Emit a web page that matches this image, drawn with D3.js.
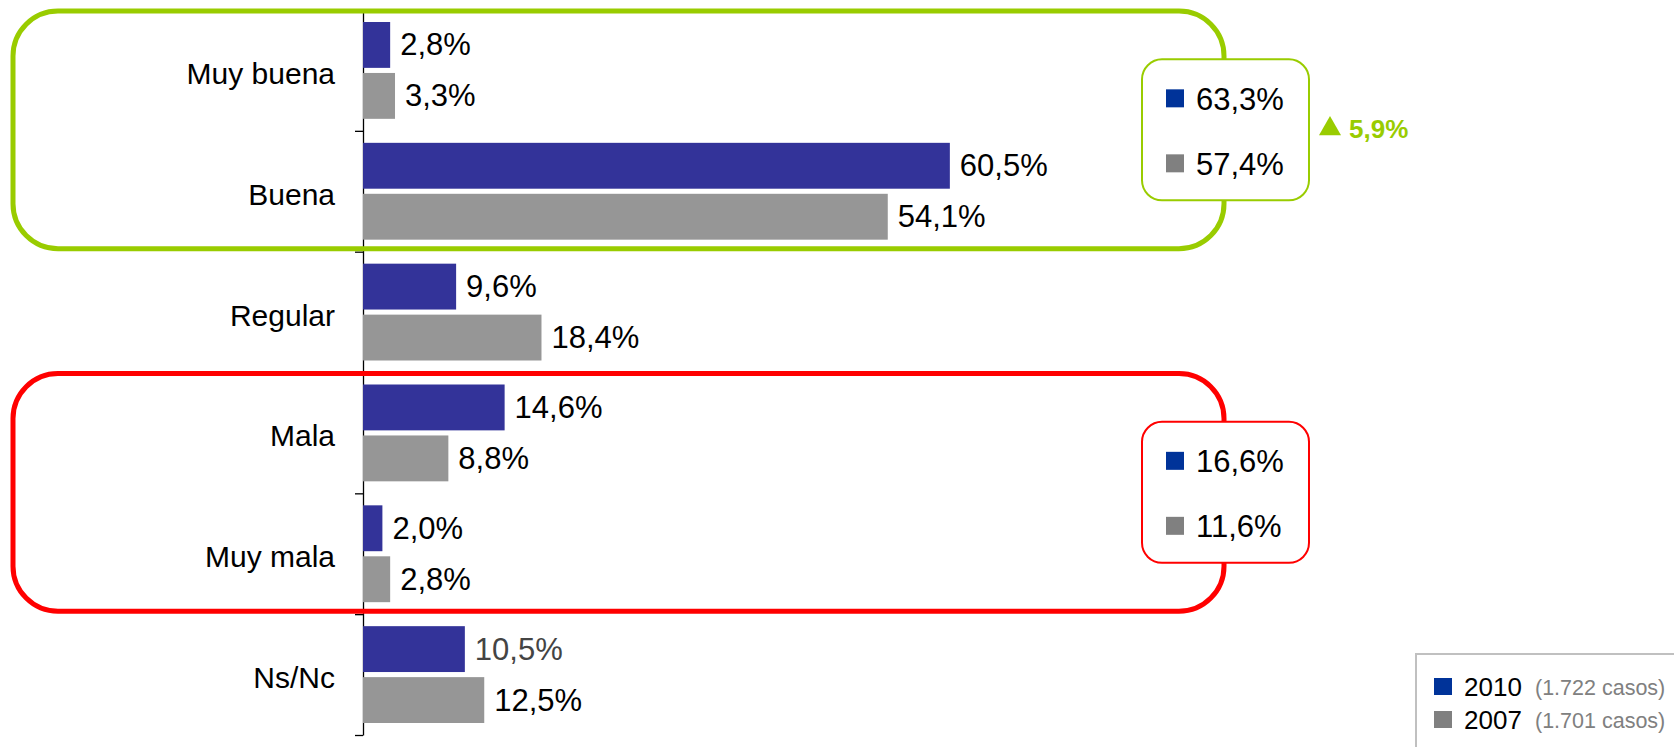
<!DOCTYPE html>
<html>
<head>
<meta charset="utf-8">
<script src="https://cdn.jsdelivr.net/npm/d3@7"></script>
<style>
  body { margin: 0; background: #fff; }
  svg { display: block; font-family: "Liberation Sans", Arial, sans-serif; }
</style>
</head>
<body>
<svg id="chart"></svg>
<script>
// valoracion
let categories = ['Muy buena', 'Buena', 'Regular', 'Mala', 'Muy mala', 'Ns/Nc'];
let years = ['2010', '2007'];
let v2010 = [2.8, 60.5, 9.6, 14.6, 2.0, 10.5];
let v2007 = [3.3, 54.1, 18.4, 8.8, 2.8, 12.5];
let casos = [1722, 1701];
// grupos resumidos (indices de categorias)
let groups = [
  { from: 0, to: 1, color: '#99cc00', delta: true },
  { from: 3, to: 4, color: '#ff0000', delta: false }
];

let width = 1674, height = 747;
let barColors = ['#333399', '#969696'];
let keyColors = ['#003399', '#808080'];

let es = d3.formatLocale({ decimal: ',', thousands: '.', grouping: [3], currency: ['', ''] });
let pct = d => es.format('.1f')(d) + '%';
let miles = es.format(',d');

let svg = d3.select('#chart')
  .attr('width', width)
  .attr('height', height);

let x = d3.scaleLinear().domain([0, 100]).range([363, 1333]);
let y0 = d3.scaleBand().domain(categories).range([10, 735]).padding(0);
let y1 = d3.scaleBand().domain(years).range([12, y0.step() - 12]).paddingInner(0.1);

// ejes
let tickScale = d3.scaleLinear().domain([0, categories.length]).range([10, 735]);
svg.append('g')
  .attr('transform', `translate(${x(0)},0)`)
  .call(d3.axisLeft(tickScale).ticks(categories.length).tickSize(8).tickSizeOuter(0).tickFormat(''))
  .call(g => g.selectAll('path, line').attr('stroke', '#000').attr('stroke-width', 1.3));

svg.append('g').selectAll('text')
  .data(categories)
  .enter()
  .append('text')
  .attr('x', 335)
  .attr('y', d => y0(d) + y0.step() / 2 + 3)
  .attr('text-anchor', 'end')
  .attr('dominant-baseline', 'central')
  .attr('font-size', 30)
  .text(d => d);

// barras
let rows = [];
categories.forEach((c, i) => {
  rows.push({ cat: c, year: '2010', value: v2010[i], k: 0 });
  rows.push({ cat: c, year: '2007', value: v2007[i], k: 1 });
});

svg.append('g').selectAll('rect')
  .data(rows)
  .enter()
  .append('rect')
  .attr('x', x(0))
  .attr('y', d => y0(d.cat) + y1(d.year))
  .attr('width', d => x(d.value) - x(0))
  .attr('height', y1.bandwidth())
  .attr('fill', d => barColors[d.k]);

svg.append('g').selectAll('text')
  .data(rows)
  .enter()
  .append('text')
  .attr('x', d => x(d.value) + 10)
  .attr('y', d => y0(d.cat) + y1(d.year) + y1.bandwidth() / 2)
  .attr('dominant-baseline', 'central')
  .attr('font-size', 31)
  .attr('fill', d => (d.cat === 'Ns/Nc' && d.k === 0) ? '#444' : '#000')
  .text(d => pct(d.value));

// cajas de grupos
groups.forEach(gr => {
  let top = y0(categories[gr.from]) + 1;
  let bottom = y0(categories[gr.to]) + y0.step() - 3;
  svg.append('rect')
    .attr('x', 13).attr('y', top)
    .attr('width', 1224 - 13).attr('height', bottom - top)
    .attr('rx', 45).attr('ry', 45)
    .attr('fill', 'none')
    .attr('stroke', gr.color)
    .attr('stroke-width', 5);

  let t2010 = d3.sum(v2010.slice(gr.from, gr.to + 1));
  let t2007 = d3.sum(v2007.slice(gr.from, gr.to + 1));
  let cy = (top + bottom) / 2;
  let bx = 1142, bw = 167, bh = 141, by = cy - bh / 2;
  svg.append('rect')
    .attr('x', bx).attr('y', by)
    .attr('width', bw).attr('height', bh)
    .attr('rx', 20).attr('ry', 20)
    .attr('fill', '#fff')
    .attr('stroke', gr.color)
    .attr('stroke-width', 2);

  [t2010, t2007].forEach((t, i) => {
    let ty = by + (i === 0 ? 39 : 104);
    svg.append('rect')
      .attr('x', bx + 24).attr('y', ty - 9)
      .attr('width', 18).attr('height', 18)
      .attr('fill', keyColors[i]);
    svg.append('text')
      .attr('x', bx + 54).attr('y', ty + 1)
      .attr('dominant-baseline', 'central')
      .attr('font-size', 31)
      .text(pct(t));
  });

  if (gr.delta) {
    let dif = t2010 - t2007;
    svg.append('path')
      .attr('d', d3.symbol().type(d3.symbolTriangle).size(210)())
      .attr('transform', `translate(1330,${cy - 1})`)
      .attr('fill', gr.color);
    svg.append('text')
      .attr('x', 1349).attr('y', cy - 1)
      .attr('dominant-baseline', 'central')
      .attr('font-size', 26)
      .attr('font-weight', 'bold')
      .attr('fill', gr.color)
      .text(pct(dif));
  }
});

// leyenda
let legend = svg.append('g');
legend.append('rect')
  .attr('x', 1416).attr('y', 654)
  .attr('width', 300).attr('height', 120)
  .attr('fill', '#fff')
  .attr('stroke', '#c0c0c0')
  .attr('stroke-width', 2);

years.forEach((yr, i) => {
  let ly = 687 + i * 33;
  legend.append('rect')
    .attr('x', 1434).attr('y', ly - 9)
    .attr('width', 18).attr('height', 17)
    .attr('fill', keyColors[i]);
  legend.append('text')
    .attr('x', 1464).attr('y', ly)
    .attr('dominant-baseline', 'central')
    .attr('font-size', 26)
    .text(yr);
  legend.append('text')
    .attr('x', 1535).attr('y', ly + 1)
    .attr('dominant-baseline', 'central')
    .attr('font-size', 21.5)
    .attr('fill', '#808080')
    .text(`(${miles(casos[i])} casos)`);
});
</script>
</body>
</html>
